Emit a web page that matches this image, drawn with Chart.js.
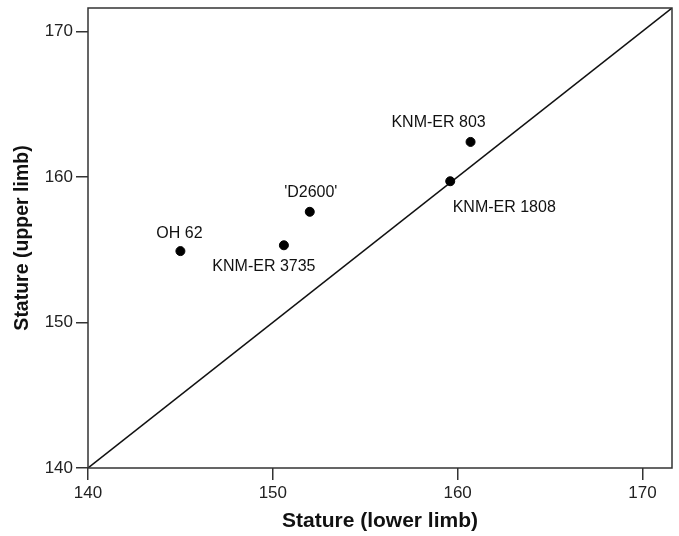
<!DOCTYPE html>
<html>
<head>
<meta charset="utf-8">
<script src="https://cdn.jsdelivr.net/npm/chart.js@4/dist/chart.umd.min.js"></script>
<style>
  body { margin: 0; background: #fff; }
</style>
</head>
<body>
<canvas id="chart" width="679" height="536"></canvas>
<script>
// specimen names and stature estimates (cm)
const specimens = ['OH 62', 'KNM-ER 3735', "'D2600'", 'KNM-ER 803', 'KNM-ER 1808']
const lowerLimb = [145.0, 150.6, 152.0, 160.7, 159.6]
const upperLimb = [154.9, 155.3, 157.6, 162.4, 159.7]

// line of equality, runs corner to corner
const equalityLine = [140, 171.6]
const axisTicks = [140, 150, 160, 170]

// where each name sits relative to its dot (px): [dx to text centre, dy to baseline]
const labelOffsets = [[-1, -13], [-20, 26], [1, -15], [-32, -15], [54, 31]]

const FONT = "'Liberation Sans', Arial, sans-serif"
const INK = '#333'

const frame = {
  id: 'frame',
  afterDraw(chart) {
    const { ctx, chartArea: a } = chart
    ctx.save()
    ctx.strokeStyle = INK
    ctx.lineWidth = 1.5
    ctx.strokeRect(a.left, a.top, a.right - a.left, a.bottom - a.top)
    ctx.restore()
  }
}

const pointNames = {
  id: 'pointNames',
  afterDatasetsDraw(chart) {
    const { ctx } = chart
    const meta = chart.getDatasetMeta(1)
    ctx.save()
    ctx.font = '16px ' + FONT
    ctx.fillStyle = '#111'
    ctx.textAlign = 'center'
    ctx.textBaseline = 'alphabetic'
    meta.data.forEach((pt, i) => {
      const off = labelOffsets[i]
      ctx.fillText(specimens[i], pt.x + off[0], pt.y + off[1])
    })
    ctx.restore()
  }
}

function axis(titleText, fitSize, titleSize) {
  return {
    type: 'linear',
    min: equalityLine[0],
    max: equalityLine[1],
    afterBuildTicks: s => { s.ticks = axisTicks.map(v => ({ value: v })) },
    afterFit: s => {
      // keep the plot box where the layout padding puts it
      s.paddingTop = 0; s.paddingBottom = 0; s.paddingLeft = 0; s.paddingRight = 0
      if (s.isHorizontal()) s.height = fitSize
      else s.width = fitSize
    },
    border: { display: false },
    grid: { drawOnChartArea: false, drawTicks: true, tickLength: 12, color: INK, lineWidth: 1.5 },
    ticks: { padding: 3, color: '#222', font: { family: FONT, size: 17 } },
    title: {
      display: true,
      text: titleText,
      color: '#111',
      font: { family: FONT, size: titleSize, weight: 'bold' },
      padding: { top: 11, bottom: 2 }
    }
  }
}

new Chart(document.getElementById('chart'), {
  type: 'scatter',
  data: {
    datasets: [
      {
        // y = x reference
        data: equalityLine.map(v => ({ x: v, y: v })),
        showLine: true,
        borderColor: '#111',
        borderWidth: 1.5,
        pointRadius: 0,
        order: 2
      },
      {
        data: lowerLimb.map((x, i) => ({ x: x, y: upperLimb[i] })),
        backgroundColor: '#000',
        borderColor: '#000',
        pointRadius: 4.5,
        pointHoverRadius: 4.5,
        order: 1
      }
    ]
  },
  options: {
    responsive: false,
    devicePixelRatio: 1,
    animation: false,
    layout: { padding: { top: 8, right: 7, left: 0, bottom: 0 } },
    plugins: { legend: { display: false }, tooltip: { enabled: false } },
    scales: {
      x: axis('Stature (lower limb)', 68, 21),
      y: axis('Stature (upper limb)', 88, 19.5)
    }
  },
  plugins: [frame, pointNames]
})
</script>
</body>
</html>
